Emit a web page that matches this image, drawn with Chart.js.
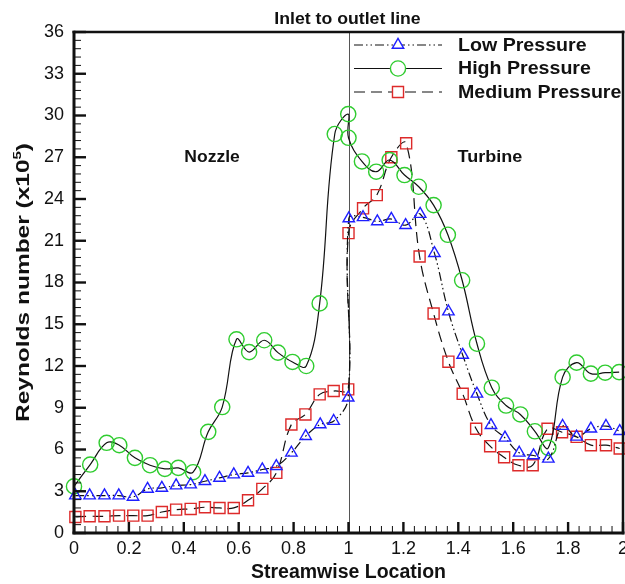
<!DOCTYPE html>
<html>
<head>
<meta charset="utf-8">
<script src="https://cdn.jsdelivr.net/npm/chart.js@4.4.1/dist/chart.umd.min.js"></script>
<style>
html,body{margin:0;padding:0;background:#fff;}
#wrap{width:625px;height:584px;position:relative;}
</style>
</head>
<body>
<div id="wrap"><canvas id="c" width="625" height="584"></canvas></div>
<script>
// ---- data ----
const lowX  = [0.005,0.057,0.111,0.163,0.215,0.268,0.320,0.372,0.425,0.477,0.530,0.582,0.634,0.686,0.737,0.792,0.844,0.897,0.946,0.999,
               1.001,1.053,1.105,1.156,1.208,1.261,1.313,1.364,1.416,1.468,1.519,1.570,1.622,1.674,1.728,1.780,1.831,1.883,1.938,1.988];
const lowY  = [2.69,2.69,2.69,2.69,2.59,3.17,3.24,3.41,3.48,3.72,3.96,4.20,4.32,4.56,4.80,5.76,6.96,7.80,8.04,9.72,
               22.6,22.68,22.39,22.56,22.12,22.92,20.11,15.91,12.79,10.0,7.75,6.84,5.76,5.57,5.33,7.68,6.91,7.49,7.68,7.32];
const highX = [0.000,0.059,0.119,0.165,0.222,0.277,0.331,0.380,0.434,0.489,0.540,0.592,0.638,0.693,0.743,0.796,0.846,0.895,0.950,0.999,
               1.000,1.049,1.101,1.150,1.204,1.256,1.310,1.362,1.414,1.468,1.522,1.574,1.626,1.679,1.728,1.780,1.831,1.883,1.935,1.986];
const highY = [3.35,4.92,6.48,6.31,5.40,4.87,4.61,4.68,4.37,7.27,9.05,13.92,13.0,13.85,12.96,12.29,12.0,16.5,28.67,30.1,
               28.4,26.7,25.96,26.8,25.72,24.88,23.56,21.43,18.16,13.6,10.44,9.16,8.52,7.31,6.12,11.2,12.24,11.45,11.52,11.56];
const medX  = [0.005,0.057,0.111,0.164,0.216,0.268,0.320,0.372,0.425,0.477,0.530,0.582,0.634,0.686,0.737,0.792,0.843,0.895,0.946,0.999,
               1.000,1.053,1.103,1.156,1.210,1.259,1.310,1.364,1.416,1.465,1.516,1.567,1.619,1.671,1.725,1.778,1.831,1.883,1.938,1.988];
const medY  = [1.15,1.20,1.20,1.25,1.25,1.25,1.51,1.68,1.73,1.85,1.80,1.80,2.35,3.17,4.32,7.80,8.52,9.96,10.2,10.32,
               21.55,23.33,24.28,27.0,28.0,19.87,15.77,12.31,10.0,7.49,6.24,5.44,4.87,4.87,7.49,7.24,6.91,6.31,6.31,6.07];
const seriesNames = ['Low Pressure','High Pressure','Medium Pressure'];
const xTickLabels = ['0','0.2','0.4','0.6','0.8','1','1.2','1.4','1.6','1.8','2'];
const yTickLabels = ['0','3','6','9','12','15','18','21','24','27','30','33','36'];
const regionLabels = ['Nozzle','Turbine'];
const dividerValue = 1;
const dividerLabel = 'Inlet to outlet line';
const xTitle = 'Streamwise Location';
const yTitleMain = 'Reynolds number (x10';
const yTitleSup = '5';
const yTitleEnd = ')';

// ---- styles ----
const FONT = "'Liberation Sans', Arial, sans-serif";
const styles = [
  {color:'#1f1fff', pointStyle:'triangle', radius:6.6, dash:[9,3,1.5,3,1.5,3]},
  {color:'#2fcc2f', pointStyle:'circle',   radius:7.6, dash:[]},
  {color:'#dd2a2a', pointStyle:'rect',     radius:7.8, dash:[11,6]}
];
function pts(xs, ys){ return xs.map((x,i)=>({x:x, y:ys[i]})); }
const dataSets = [pts(lowX,lowY), pts(highX,highY), pts(medX,medY)];

const datasets = dataSets.map((d,i)=>({
  label: seriesNames[i],
  data: d,
  borderColor:'#111',
  borderWidth:1.2,
  borderDash: styles[i].dash,
  tension:0.4,
  fill:false,
  clip:false,
  pointStyle: styles[i].pointStyle,
  pointRadius: styles[i].radius,
  pointHoverRadius: styles[i].radius,
  pointBorderColor: styles[i].color,
  pointBackgroundColor:'rgba(0,0,0,0)',
  pointBorderWidth:1.4
}));

function stretchText(ctx, text, x, y, font, sx, align){
  ctx.save();
  ctx.translate(x,y); ctx.scale(sx,1);
  ctx.font=font; ctx.textAlign=align||'center'; ctx.textBaseline='middle';
  ctx.fillText(text,0,0);
  ctx.restore();
}

const deco = {
  id:'deco',
  beforeDatasetsDraw(chart){
    const {ctx, chartArea:a, scales:{x}} = chart;
    ctx.save();
    ctx.strokeStyle='#555'; ctx.lineWidth=1;
    const px = Math.round(x.getPixelForValue(dividerValue))+0.5;
    ctx.beginPath(); ctx.moveTo(px,a.top); ctx.lineTo(px,a.bottom); ctx.stroke();
    ctx.restore();
  },
  afterDraw(chart){
    const {ctx, chartArea:a, scales:{x,y}} = chart;
    ctx.save();
    ctx.fillStyle='#111';
    // frame
    ctx.fillRect(a.left-1.5, a.top-1.25, a.right-a.left+3, 2.5);
    ctx.fillRect(a.right-1.25, a.top-1.25, 2.5, a.bottom-a.top+2.5);
    ctx.fillRect(a.left-1.5, a.top-1.25, 3, a.bottom-a.top+2.5);
    ctx.fillRect(a.left-1.5, a.bottom-1.5, a.right-a.left+3, 3);
    // y ticks (inward)
    for(let i=0;i<=60;i++){
      const v=i*0.6, py=y.getPixelForValue(v), major=(i%5===0);
      if(major){ ctx.fillRect(a.left, py-1.2, 12, 2.4); }
      else { ctx.fillRect(a.left, py-0.5, 7, 1); }
    }
    // x ticks (inward)
    for(let i=0;i<=50;i++){
      const v=i*0.04, px=x.getPixelForValue(v), major=(i%5===0);
      if(major){ ctx.fillRect(px-1.2, a.bottom-11, 2.4, 11); }
      else { ctx.fillRect(px-0.5, a.bottom-7, 1, 7); }
    }
    ctx.fillStyle='#111';
    // region labels
    stretchText(ctx, regionLabels[0], x.getPixelForValue(0.503), y.getPixelForValue(27.0), "bold 17px "+FONT, 1.03);
    stretchText(ctx, regionLabels[1], x.getPixelForValue(1.515), y.getPixelForValue(27.0), "bold 17px "+FONT, 1.06);
    // divider label
    stretchText(ctx, dividerLabel, x.getPixelForValue(dividerValue)-1, 19, "bold 17px "+FONT, 1.04);
    // y title (rotated, with superscript)
    ctx.save();
    ctx.translate(23, (a.top+a.bottom)/2);
    ctx.rotate(-Math.PI/2);
    ctx.scale(1.36,1);
    const fMain="bold 18px "+FONT, fSup="bold 11px "+FONT;
    ctx.font=fMain; const w1=ctx.measureText(yTitleMain).width, w3=ctx.measureText(yTitleEnd).width;
    ctx.font=fSup; const w2=ctx.measureText(yTitleSup).width;
    let sx0=-(w1+w2+w3)/2;
    ctx.textAlign='left'; ctx.textBaseline='middle';
    ctx.font=fMain; ctx.fillText(yTitleMain, sx0, 1);
    ctx.font=fSup; ctx.fillText(yTitleSup, sx0+w1, -5);
    ctx.font=fMain; ctx.fillText(yTitleEnd, sx0+w1+w2, 1);
    ctx.restore();
    // legend
    const rows=[45,68.5,92];
    for(let i=0;i<3;i++){
      const ry=rows[i];
      ctx.save();
      ctx.strokeStyle='#111'; ctx.lineWidth=1.2; ctx.setLineDash(styles[i].dash);
      ctx.beginPath(); ctx.moveTo(354,ry); ctx.lineTo(442,ry); ctx.stroke();
      ctx.setLineDash([]);
      ctx.strokeStyle=styles[i].color; ctx.lineWidth=1.4; ctx.fillStyle='#fff';
      Chart.helpers.drawPoint(ctx,{pointStyle:styles[i].pointStyle, radius:styles[i].radius, rotation:0, borderWidth:1.4},398,ry);
      ctx.restore();
      ctx.fillStyle='#111';
      stretchText(ctx, seriesNames[i], 458, ry+1, "bold 17.5px "+FONT, 1.12, 'left');
    }
    ctx.restore();
  }
};

new Chart(document.getElementById('c'), {
  type:'line',
  data:{datasets},
  options:{
    responsive:false,
    animation:false,
    devicePixelRatio:1,
    layout:{autoPadding:false, padding:{top:32,right:2,left:0,bottom:0}},
    plugins:{legend:{display:false}, tooltip:{enabled:false}},
    scales:{
      x:{
        type:'linear', min:0, max:2,
        afterFit(s){ s.height=51; s.paddingLeft=0; s.paddingRight=0; },
        ticks:{stepSize:0.2, autoSkip:false, maxRotation:0, padding:5, color:'#111',
               font:{family:FONT, size:18}, callback:(v,i)=>xTickLabels[i]},
        grid:{display:false, drawTicks:false},
        border:{display:false},
        title:{display:true, text:xTitle, color:'#111',
               font:{family:FONT, size:19.5, weight:'bold'}, padding:{top:0,bottom:0}}
      },
      y:{
        type:'linear', min:0, max:36,
        afterFit(s){ s.width=74; s.paddingTop=0; s.paddingBottom=0; },
        ticks:{stepSize:3, autoSkip:false, padding:10, color:'#111',
               font:{family:FONT, size:18}, callback:(v,i)=>yTickLabels[i]},
        grid:{display:false, drawTicks:false},
        border:{display:false},
        title:{display:false}
      }
    }
  },
  plugins:[deco]
});
</script>
</body>
</html>
